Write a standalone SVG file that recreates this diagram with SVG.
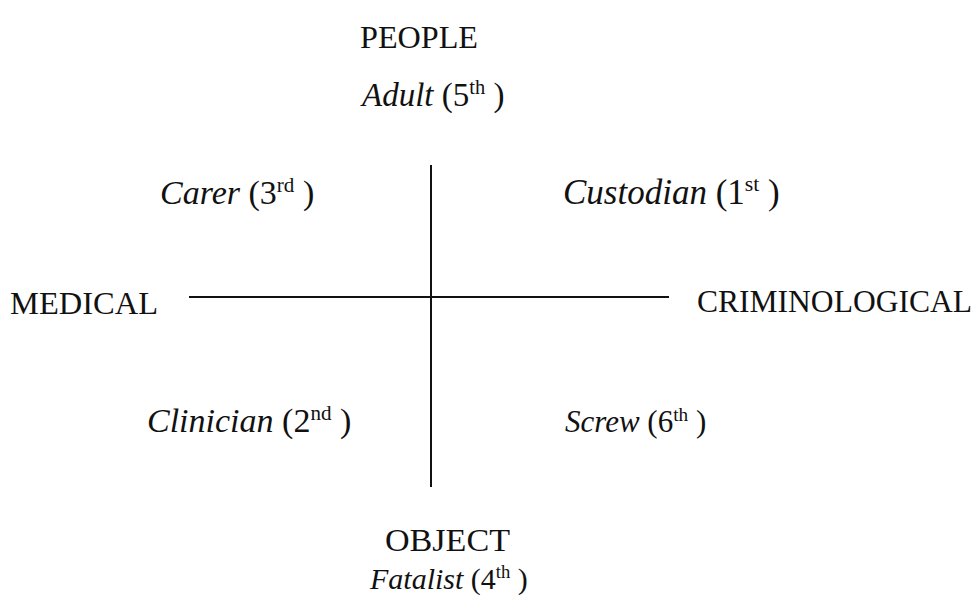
<svg xmlns="http://www.w3.org/2000/svg" width="976" height="596" viewBox="0 0 976 596">
<style>
text{font-family:"Liberation Serif","Times New Roman",serif;fill:#111}
.ax{font-size:32px}
.it{font-style:italic}
.n{font-style:normal}
.sup{font-size:0.62em;font-style:normal}
.line{stroke:#111;stroke-width:2;fill:none}
</style>
<rect width="976" height="596" fill="#fff"/>
<g id="connectors">
<line class="line" x1="189" y1="297" x2="669" y2="297"/>
<line class="line" x1="431" y1="165" x2="431" y2="487"/>
</g>
<g id="people"><text class="ax" x="360" y="48" textLength="118" lengthAdjust="spacingAndGlyphs">PEOPLE</text></g>
<g id="adult"><text class="it" x="362" y="106" font-size="33">Adult<tspan class="n"> (5</tspan><tspan class="sup" dy="-12">th</tspan><tspan class="n" dy="12"> )</tspan></text></g>
<g id="carer"><text class="it" x="160" y="204" font-size="34">Carer<tspan class="n"> (3</tspan><tspan class="sup" dy="-12">rd</tspan><tspan class="n" dy="12"> )</tspan></text></g>
<g id="custodian"><text class="it" x="563" y="204" font-size="35">Custodian<tspan class="n"> (1</tspan><tspan class="sup" dy="-13">st</tspan><tspan class="n" dy="13"> )</tspan></text></g>
<g id="medical"><text class="ax" x="10" y="314" textLength="148" lengthAdjust="spacingAndGlyphs">MEDICAL</text></g>
<g id="criminological"><text class="ax" x="697" y="312" textLength="275" lengthAdjust="spacingAndGlyphs">CRIMINOLOGICAL</text></g>
<g id="clinician"><text class="it" x="147" y="432" font-size="34">Clinician<tspan class="n"> (2</tspan><tspan class="sup" dy="-12">nd</tspan><tspan class="n" dy="12"> )</tspan></text></g>
<g id="screw"><text class="it" x="565" y="432" font-size="31">Screw<tspan class="n"> (6</tspan><tspan class="sup" dy="-11">th</tspan><tspan class="n" dy="11"> )</tspan></text></g>
<g id="object"><text class="ax" x="385" y="551" textLength="125" lengthAdjust="spacingAndGlyphs">OBJECT</text></g>
<g id="fatalist"><text class="it" x="370" y="589" font-size="30">Fatalist<tspan class="n"> (4</tspan><tspan class="sup" dy="-11">th</tspan><tspan class="n" dy="11"> )</tspan></text></g>
</svg>
